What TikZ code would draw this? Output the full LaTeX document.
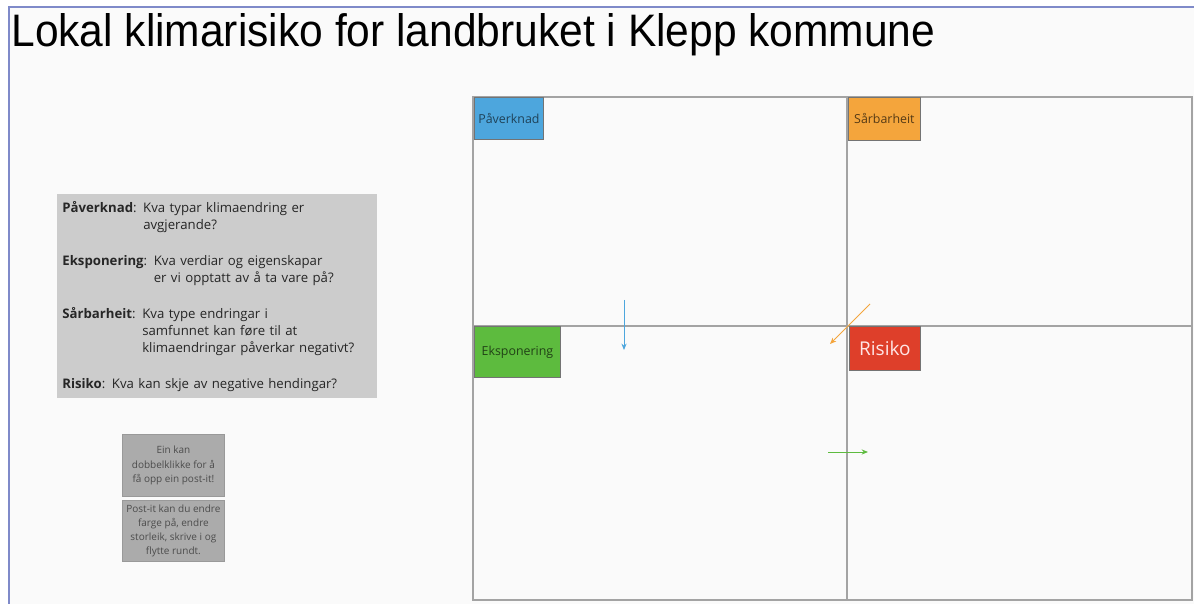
\documentclass[tikz,border=0pt]{standalone}
\usepackage{fontspec}
\setmainfont{Open Sans}
\newfontfamily\titlefont{Liberation Sans}
\usepackage{graphicx}
\usetikzlibrary{arrows.meta}

\definecolor{slideline}{HTML}{7F8AC9}
\definecolor{slidebg}{HTML}{FAFAFA}
\definecolor{gridgray}{HTML}{A3A3A3}
\definecolor{pavblue}{HTML}{4DA6DD}
\definecolor{sarorange}{HTML}{F4A53C}
\definecolor{eksgreen}{HTML}{5DBB3E}
\definecolor{risred}{HTML}{DE3F2A}
\definecolor{infogray}{HTML}{CCCCCC}
\definecolor{postgray}{HTML}{ABABAB}

\begin{document}
\begin{tikzpicture}[x=0.5pt,y=-0.5pt,
    labelbox/.style={draw=black!55, anchor=north west, inner sep=0pt,
      font=\fontsize{6.2}{7}\selectfont},
    postit/.style={draw=black!40, fill=postgray, anchor=north west, inner sep=1pt,
      minimum width=51pt, align=center, text=black!70,
      font=\fontsize{5}{7}\selectfont},
    thinarrow/.style={-{Stealth[length=3.2pt,width=2.6pt]}, line width=0.5pt}]
    \useasboundingbox[fill=white] (0,0) rectangle (1194,604);
    \fill[slidebg] (9,7) rectangle (1194,604);
    \draw[slideline, line width=1.1pt] (9,604) -- (9,7) -- (1194,7);

    % title
    \node[anchor=base west, inner sep=0pt] (title) at (11,47)
        {\resizebox{462pt}{16.5pt}{\titlefont Lokal klimarisiko for landbruket i Klepp kommune}};

    % explanation box
    \node[fill=infogray, anchor=north west, minimum width=160pt, minimum height=101.5pt,
          text width=155pt, inner xsep=2.5pt, align=left, text=black!85,
          font=\fontsize{6.6}{8.5}\selectfont] (info) at (57,194)
        {\textbf{Påverknad}: Kva typar klimaendring er\\
         \phantom{\textbf{Påverknad}: }avgjerande?\\[9.5pt]
         \textbf{Eksponering}: Kva verdiar og eigenskapar\\
         \phantom{\textbf{Eksponering}: }er vi opptatt av å ta vare på?\\[9.5pt]
         \textbf{Sårbarheit}: Kva type endringar i\\
         \phantom{\textbf{Sårbarheit}: }samfunnet kan føre til at\\
         \phantom{\textbf{Sårbarheit}: }klimaendringar påverkar negativt?\\[9.5pt]
         \textbf{Risiko}: Kva kan skje av negative hendingar?};

    % post-its
    \node[postit, minimum height=31pt] (tip1) at (122,434)
        {Ein kan\\dobbelklikke for å\\få opp ein post-it!};
    \node[postit, minimum height=30.5pt] (tip2) at (122,500)
        {Post-it kan du endre\\farge på, endre\\storleik, skrive i og\\flytte rundt.};

    % quadrant grid
    \draw[gridgray, line width=0.7pt] (473,97) rectangle (1192,600);
    \draw[gridgray, line width=0.7pt] (847,97) -- (847,600);
    \draw[gridgray, line width=0.7pt] (473,326) -- (1192,326);

    % quadrant labels
    \node[labelbox, fill=pavblue, text=pavblue!40!black, minimum width=34.5pt, minimum height=21pt]
        (pav) at (474,97) {Påverknad};
    \node[labelbox, fill=sarorange, text=sarorange!35!black, minimum width=36pt, minimum height=21.5pt]
        (sar) at (848,97) {Sårbarheit};
    \node[labelbox, fill=eksgreen, text=eksgreen!35!black, minimum width=43pt, minimum height=25.5pt]
        (eks) at (474,326) {Eksponering};
    \node[labelbox, fill=risred, text=red!10!white, minimum width=35.5pt, minimum height=22pt,
          font=\fontsize{9.5}{10}\selectfont]
        (ris) at (849,326) {Risiko};

    % arrows
    \coordinate (bluetop) at (624,300);
    \coordinate (bluebot) at (624,350);
    \coordinate (orangetop) at (870,304);
    \coordinate (orangebot) at (830,344);
    \coordinate (greenleft) at (828,452);
    \coordinate (greenright) at (868,452);
    \draw[thinarrow, pavblue] (bluetop) -- (bluebot);
    \draw[thinarrow, sarorange] (orangetop) -- (orangebot);
    \draw[thinarrow, eksgreen] (greenleft) -- (greenright);
\end{tikzpicture}
\end{document}
